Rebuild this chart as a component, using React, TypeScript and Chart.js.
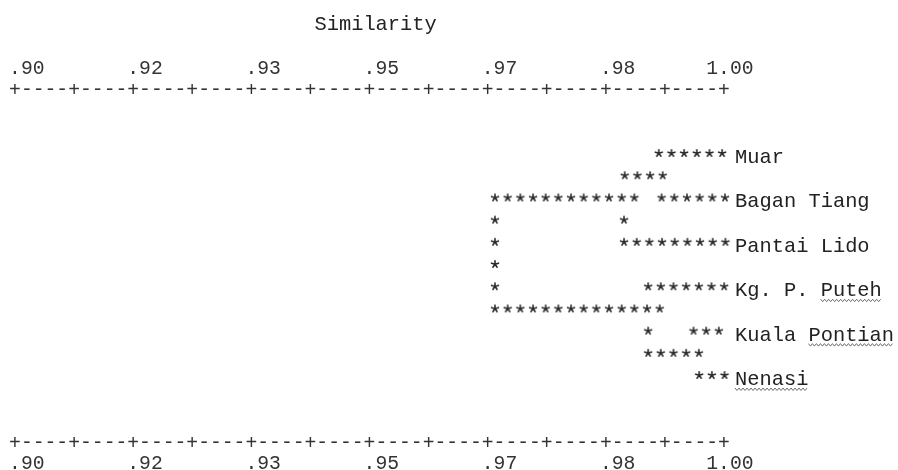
import { useEffect, useRef } from "react";
import { Chart, registerables } from "chart.js";

Chart.register(...registerables);

// ---------------- data ----------------
const TITLE = "Similarity";

const leafNames = ["Muar", "Bagan Tiang", "Pantai Lido", "Kg. P. Puteh", "Kuala Pontian", "Nenasi"];
const leafRows = [1, 3, 5, 7, 9, 11];
// words carrying a wavy (spell-check) underline in the source document
const flaggedWords = ["", "", "", "Puteh", "Pontian", "Nenasi"];

// similarity axis
const tickValues = [0.9, 0.916667, 0.933333, 0.95, 0.966667, 0.983333, 1.0];
const tickLabels = [".90", ".92", ".93", ".95", ".97", ".98", "1.00"];
const minorTickValues = [0.908333, 0.925, 0.941667, 0.958333, 0.975, 0.991667];

// asterisk runs of the text dendrogram: text row, starting similarity, number of asterisks
const runRows = [1, 2, 3, 3, 4, 4, 5, 5, 6, 7, 7, 8, 9, 9, 10, 11];
const runStarts = [
  0.9908, 0.986, 0.9677, 0.9912, 0.9677, 0.9859, 0.9677, 0.9859,
  0.9677, 0.9677, 0.9893, 0.9677, 0.9893, 0.9957, 0.9893, 0.9965,
];
const runCounts = [6, 4, 12, 6, 1, 1, 1, 9, 1, 1, 7, 14, 1, 3, 5, 3];
const STAR_STEP = 0.001787; // one character cell, in similarity units

const TOP_AXIS_ROW = -1.9;
const BOTTOM_AXIS_ROW = 14;

// ---------------- styles ----------------
const MONO = '"Liberation Mono", "Courier New", monospace';
const TEXT_FONT = `20.4px ${MONO}`;
const AXIS_FONT = `19.7px ${MONO}`;
const INK = "#222222";
const AXIS_INK = "#333333";

// five-armed asterisk glyph used as the point style
function makeStar(): HTMLCanvasElement {
  const c = document.createElement("canvas");
  c.width = 12;
  c.height = 12;
  const g = c.getContext("2d")!;
  g.strokeStyle = "#2a2a2a";
  g.lineWidth = 1.6;
  g.lineCap = "round";
  g.beginPath();
  for (let k = 0; k < 5; k++) {
    const a = ((-90 + k * 72) * Math.PI) / 180;
    g.moveTo(6, 6.3);
    g.lineTo(6 + Math.cos(a) * 3.6, 6.3 + Math.sin(a) * 3.6);
  }
  g.stroke();
  return c;
}

function inkCentered(ctx: CanvasRenderingContext2D, ch: string, x: number, y: number) {
  const m = ctx.measureText(ch);
  ctx.textAlign = "center";
  ctx.textBaseline = "alphabetic";
  ctx.fillText(ch, x, y + (m.actualBoundingBoxAscent - m.actualBoundingBoxDescent) / 2);
}

const asciiPlugin = {
  id: "asciiDendrogram",
  afterDatasetsDraw(chart: any) {
    const ctx: CanvasRenderingContext2D = chart.ctx;
    const xs = chart.scales.x;
    const ys = chart.scales.y;
    ctx.save();

    // axes (top and bottom), drawn as "+----+" using the similarity scale
    ctx.font = AXIS_FONT;
    ctx.fillStyle = AXIS_INK;
    const charW = ctx.measureText("0").width;
    const plusVals = [...tickValues, ...minorTickValues].sort((a, b) => a - b);
    const axisRows = [TOP_AXIS_ROW, BOTTOM_AXIS_ROW];
    axisRows.forEach((row, ai) => {
      const y = ys.getPixelForValue(row);
      for (let i = 0; i < plusVals.length; i++) {
        const px = xs.getPixelForValue(plusVals[i]);
        inkCentered(ctx, "+", px, y);
        if (i < plusVals.length - 1) {
          const nx = xs.getPixelForValue(plusVals[i + 1]);
          for (let k = 1; k <= 4; k++) inkCentered(ctx, "-", px + ((nx - px) * k) / 5, y);
        }
      }
      const labelY = ai === 0 ? y - 15 : y + 27;
      ctx.textAlign = "left";
      ctx.textBaseline = "alphabetic";
      tickValues.forEach((v, i) => {
        const lab = tickLabels[i];
        const dot = lab.indexOf(".");
        const px = xs.getPixelForValue(v);
        ctx.fillText(lab, px - (dot + 0.5) * charW, labelY);
      });
    });

    // title
    ctx.font = TEXT_FONT;
    ctx.fillStyle = INK;
    const tW = ctx.measureText("0").width;
    const topY = ys.getPixelForValue(TOP_AXIS_ROW);
    ctx.textAlign = "center";
    ctx.textBaseline = "alphabetic";
    ctx.fillText(TITLE, (xs.left + xs.right) / 2 + tW / 2, topY - 58.5);

    // leaf names
    ctx.textAlign = "left";
    const labelX = xs.getPixelForValue(1.0) + 11;
    leafNames.forEach((name, i) => {
      const base = ys.getPixelForValue(leafRows[i]) + 10;
      ctx.fillStyle = INK;
      ctx.fillText(name, labelX, base);
      const w = flaggedWords[i];
      if (w) {
        const idx = name.indexOf(w);
        const sx = labelX + ctx.measureText(name.slice(0, idx)).width;
        const ww = ctx.measureText(w).width;
        ctx.strokeStyle = "#707070";
        ctx.lineWidth = 1;
        ctx.beginPath();
        let up = true;
        for (let x = sx; x <= sx + ww; x += 2) {
          const yy = base + 3 + (up ? 0 : 2.5);
          if (x === sx) ctx.moveTo(x, yy);
          else ctx.lineTo(x, yy);
          up = !up;
        }
        ctx.stroke();
      }
    });

    ctx.restore();
  },
};

export default function App() {
  const ref = useRef<HTMLCanvasElement | null>(null);

  useEffect(() => {
    if (!ref.current) return;
    const points: { x: number; y: number }[] = [];
    runRows.forEach((row, i) => {
      for (let k = 0; k < runCounts[i]; k++) {
        points.push({ x: runStarts[i] + k * STAR_STEP, y: row });
      }
    });
    const star = makeStar();
    const chart = new Chart(ref.current, {
      type: "scatter",
      data: {
        datasets: [
          {
            data: points,
            pointStyle: star as any,
            pointRadius: 6,
            pointHoverRadius: 6,
            borderWidth: 0,
            clip: false as any,
          },
        ],
      },
      options: {
        responsive: false,
        animation: false,
        events: [],
        layout: { padding: { left: 15, right: 174, top: 130.8, bottom: 72.8 } },
        scales: {
          x: { type: "linear", min: 0.9, max: 1.0, display: false },
          y: { type: "linear", min: 0, max: 12, reverse: true, display: false },
        },
        plugins: { legend: { display: false }, tooltip: { enabled: false } },
      },
      plugins: [asciiPlugin],
    });
    return () => chart.destroy();
  }, []);

  return (
    <div style={{ position: "fixed", left: 0, top: 0, width: 898, height: 470, background: "#fff" }}>
      <canvas ref={ref} width={898} height={470} style={{ display: "block" }} />
    </div>
  );
}
